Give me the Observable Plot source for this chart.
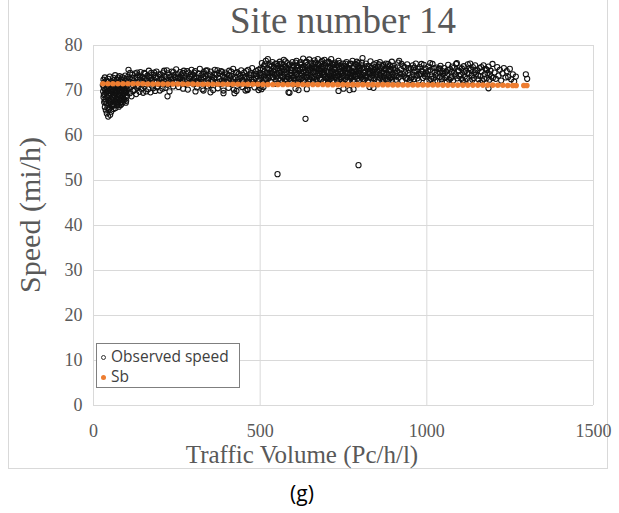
<!DOCTYPE html>
<html>
<head>
<meta charset="utf-8">
<script src="https://cdn.jsdelivr.net/npm/d3@7"></script>
<script src="https://cdn.jsdelivr.net/npm/@observablehq/plot@0.6"></script>
<style>
  body { margin: 0; background: #fff; }
  #wrap { position: relative; width: 619px; height: 513px; font-family: "Liberation Serif", "Times New Roman", serif; color: #595959; }
  #wrap > div { position: absolute; }
  .serif { font-family: "Liberation Serif", "Times New Roman", serif; }
  #chart svg text { font-family: "Liberation Serif", "Times New Roman", serif !important; }
  #outer { left: 8px; top: -1px; width: 600px; height: 470px; border: 1px solid #d9d9d9; box-sizing: border-box; }
  #title { left: 93px; width: 500px; top: 2px; text-align: center; font-size: 37px; line-height: 37px; }
  #ytitle { left: 30px; top: 215px; font-size: 30px; white-space: nowrap; transform: translate(-50%, -50%) rotate(-90deg); }
  #xtitle { left: 302px; top: 455px; font-size: 25px; white-space: nowrap; transform: translate(-50%, -50%); }
  #legend { left: 96px; top: 343px; width: 144px; height: 45px; border: 1px solid #7f7f7f; background: #fff; box-sizing: border-box;
            font-family: "Open Sans", sans-serif; font-size: 15.5px; color: #404040; }
  #legend .row { position: absolute; left: 4px; height: 20px; line-height: 20px; white-space: nowrap; }
  #legend .sym { display: inline-block; vertical-align: middle; margin-right: 5px; border-radius: 50%; box-sizing: border-box; }
  #caption { left: 302px; top: 493px; transform: translate(-50%, -50%); font-family: "Open Sans", sans-serif; font-size: 21px; color: #000; }
</style>
</head>
<body>
<div id="wrap">
  <div id="outer"></div>
  <div id="chart"></div>
  <div id="title" class="serif">Site number 14</div>
  <div id="ytitle" class="serif">Speed (mi/h)</div>
  <div id="xtitle" class="serif">Traffic Volume (Pc/h/l)</div>
  <div id="legend">
    <div class="row" style="top:2px"><span class="sym" style="width:5px;height:5px;border:1px solid #333"></span>Observed speed</div>
    <div class="row" style="top:22px"><span class="sym" style="width:5px;height:5px;background:#ED7D31"></span>Sb</div>
  </div>
  <div id="caption">(g)</div>
</div>
<script>
// Axis ticks
const xTicks = [0, 500, 1000, 1500];
const yTicks = [0, 10, 20, 30, 40, 50, 60, 70, 80];

// Observed speed (volume in pc/h/l, speed in mi/h), grouped by volume range
const observedLowVolume = [
  [28,71.2],[29,69.8],[30,72.4],[30,68.5],[31,70.6],[32,67.4],[32,71.8],[33,69.2],[34,66.3],[34,72.9],[35,70.1],[36,68.0],[36,71.5],[37,65.6],[38,69.5],[38,72.2],[39,67.1],[40,70.8],[40,64.9],
  [41,68.6],[42,71.9],[42,66.2],[43,69.9],[44,64.2],[44,72.6],[45,67.8],[46,70.4],[46,65.7],[47,68.9],[48,71.3],[48,66.9],[49,73.1],[50,69.4],[50,64.6],[51,67.3],[52,70.9],[52,68.2],[53,65.3],[54,72.0],[54,69.7],[55,66.5],
  [56,71.6],[57,68.4],[57,70.3],[58,67.0],[59,72.8],[60,69.1],[60,65.9],[61,71.0],[62,68.8],[62,66.7],[63,72.3],[64,70.0],[64,67.6],[65,73.4],[66,69.5],[66,66.1],[67,71.7],[68,68.1],[68,70.7],[69,67.3],[70,72.5],[70,69.9],
  [71,66.8],[72,71.1],[72,68.6],[73,70.2],[74,67.5],[74,72.9],[75,69.3],[76,71.5],[76,66.4],[77,68.0],[78,70.6],[78,73.2],[79,69.0],[80,67.2],[80,71.9],[81,70.1],[82,68.4],[82,72.4],[83,66.9],[84,69.7],[84,71.2],[85,67.8],
  [86,70.5],[86,73.0],[87,68.9],[88,72.0],[88,67.4],[89,70.9],[90,69.2],[90,71.6],[91,68.1],[92,72.7],[92,70.0],[93,67.9],[94,71.3],[94,69.5],[95,73.3],[96,68.6],[96,70.7],[97,72.1],[98,69.8],[98,67.7],[99,71.0],[100,68.8],[100,72.6],
  [31,69.0],[35,67.6],[39,70.3],[43,71.1],[47,66.0],[51,70.0],[55,68.0],[58,69.6],[61,67.9],[65,70.8],[69,69.0],[73,68.2],[77,70.0],[81,66.8],[85,70.9],[89,68.4],[93,69.4],[97,67.3],[33,71.7],[45,69.3],[53,71.4],[63,69.8],[71,70.4],[79,71.5],[87,71.4],[95,70.2],[99,69.6],[67,67.9],[57,66.6],[49,67.6]
];

const observedMidVolume = [
  [102,70.3],[104,73.1],[105,74.6],[107,71.9],[109,69.4],[111,72.6],[112,70.8],[114,68.7],[116,73.5],[118,71.2],[119,69.9],[121,72.2],[123,70.1],[125,73.8],[127,71.6],[128,69.2],[130,72.9],[132,70.6],[134,73.4],[136,71.0],[138,69.7],[140,72.4],[141,74.1],[143,70.4],[145,71.8],[147,73.0],[149,69.5],
  [151,72.6],[153,70.9],[155,73.7],[156,71.4],[158,69.8],[160,72.1],[162,73.3],[164,70.3],[166,74.4],[168,71.7],[170,72.8],[171,69.6],[173,73.9],[175,71.1],[177,72.4],[179,70.5],[181,73.5],[183,71.9],[185,69.9],[187,72.9],[189,74.2],[191,70.7],[193,73.1],[195,71.5],[197,72.3],[199,70.0],
  [201,73.6],[203,71.8],[205,72.7],[207,70.4],[209,74.0],[211,72.0],[213,73.2],[216,70.6],[218,72.5],[220,74.5],[222,71.3],[224,73.8],[226,72.2],[228,69.8],[230,73.0],[232,71.6],[235,74.2],[237,72.6],[239,70.9],[241,73.4],[243,71.9],[246,72.9],[248,74.7],
  [251,72.1],[253,73.6],[255,70.8],[258,72.8],[260,74.1],[262,71.7],[264,73.3],[267,72.4],[269,70.4],[271,74.4],[273,72.9],[276,71.5],[278,73.7],[280,72.3],[283,70.2],[285,74.0],[287,72.6],[290,73.1],[292,71.9],[294,74.6],[297,72.0],[299,73.5],
  [301,71.4],[303,72.7],[305,74.3],[308,73.0],[310,70.7],[312,72.2],[315,73.8],[317,71.8],[319,74.8],[322,72.5],[324,73.4],[327,70.3],[329,72.9],[331,74.1],[334,71.6],[336,73.2],[338,72.1],[341,74.5],[343,70.9],[345,72.7],[348,73.6],
  [350,71.2],[352,74.2],[355,72.4],[357,73.1],[359,70.1],[362,72.8],[364,74.6],[366,71.7],[369,73.5],[371,72.0],[373,70.5],[376,73.9],[378,72.6],[381,71.4],[383,74.3],[385,72.2],[388,73.3],[390,70.0],[393,72.9],[395,74.0],[398,71.9],
  [400,73.6],[402,72.3],[405,70.6],[407,74.4],[409,72.7],[412,71.5],[414,73.2],[417,72.0],[419,74.8],[421,70.2],[424,73.0],[426,71.8],[429,69.9],[431,74.1],[433,72.5],[436,73.7],[438,71.3],[441,72.8],[443,74.5],[446,70.8],[448,73.4],
  [450,72.1],[452,74.0],[455,71.6],[457,73.1],[460,72.6],[462,70.3],[464,74.6],[467,72.9],[469,71.2],[471,73.8],[474,72.4],[476,75.0],[479,71.9],[481,73.5],[483,70.7],[486,72.7],[488,74.3],[491,73.2],[493,71.5],[495,72.2],[498,73.9],[499,70.6],
  [103,72.0],[110,73.9],[117,72.8],[124,71.7],[131,74.0],[139,72.9],[146,72.2],[152,73.9],[159,72.7],[167,73.0],[174,72.3],[182,74.0],[188,71.8],[196,73.6],[204,72.4],[212,74.4],[219,73.1],[227,71.8],[233,72.4],[240,74.1],
  [247,71.9],[254,72.9],[261,73.0],[268,73.9],[274,72.2],[281,74.3],[288,71.7],[295,73.2],[302,74.0],[309,72.1],[316,72.8],[323,71.9],[330,73.7],[337,74.4],[344,72.3],[351,73.3],[358,72.0],[365,73.7],[372,74.5],[379,72.0],
  [386,74.1],[392,71.8],[399,72.9],[406,73.4],[413,74.2],[420,72.6],[427,73.9],[434,71.9],[440,73.2],[447,72.3],[453,72.9],[459,74.3],[466,71.8],[473,73.4],[480,72.5],[487,73.7],[494,74.6],[497,72.3]
];

const observedPeakVolume = [
  [501,74.9],[503,72.8],[505,76.1],[507,73.6],[509,71.7],[511,75.4],[513,74.2],[515,72.3],[517,76.6],[519,73.9],[521,75.0],[523,77.0],[525,72.7],[527,74.6],[529,73.2],[531,75.8],[533,71.9],[535,74.0],[537,76.3],[539,72.9],[541,75.2],[543,73.5],[545,74.7],[547,72.2],[549,76.0],[512,73.1],[520,71.6],[528,75.6],[536,73.0],[544,71.5],
  [551,73.8],[553,75.5],[555,72.5],[557,74.4],[559,76.4],[561,73.3],[563,75.1],[565,71.8],[567,74.8],[569,72.9],[571,76.8],[573,73.6],[575,75.3],[577,72.1],[579,74.1],[581,76.1],[583,73.0],[585,74.9],[587,72.6],[589,75.8],[591,73.9],[593,71.6],[595,74.5],[597,76.3],[599,72.8],[556,73.9],[564,76.0],[572,74.5],[580,72.5],[588,73.5],[596,75.0],[560,72.3],[576,76.5],[592,74.6],
  [601,75.5],[603,73.2],[605,74.6],[607,72.4],[609,76.6],[611,73.7],[613,75.0],[615,72.0],[617,74.3],[619,76.0],[621,73.4],[623,75.7],[625,72.7],[627,74.9],[629,77.1],[631,73.1],[633,75.3],[635,71.9],[637,74.0],[639,76.4],[641,72.9],[643,75.1],[645,73.8],[647,76.9],[649,72.5],[604,74.0],[612,71.7],[620,74.7],[628,72.3],[636,76.2],[644,74.4],[606,76.2],[624,73.9],[640,73.5],
  [651,74.6],[653,76.2],[655,73.0],[657,75.4],[659,72.2],[661,74.2],[663,76.7],[665,73.6],[667,75.0],[669,71.8],[671,74.8],[673,77.0],[675,73.3],[677,75.6],[679,72.6],[681,74.4],[683,76.3],[685,73.9],[687,75.2],[689,72.0],[691,74.1],[693,76.8],[695,73.1],[697,75.5],[699,72.7],[656,72.7],[664,75.1],[672,73.2],[680,76.0],[688,74.0],[696,71.9],[660,75.9],[676,74.9],[692,73.4],
  [701,74.9],[703,73.0],[705,76.4],[707,72.4],[709,75.2],[711,73.8],[713,77.0],[715,74.3],[717,72.1],[719,75.7],[721,73.5],[723,74.6],[725,76.2],[727,72.8],[729,75.0],[731,73.2],[733,74.1],[735,76.6],[737,72.3],[739,74.8],[741,73.6],[743,75.5],[745,71.9],[747,74.0],[749,76.0],[704,75.3],[712,72.6],[720,74.9],[728,73.9],[736,75.2],[744,72.9],[716,75.9],[732,75.8],
  [751,73.3],[753,75.4],[755,72.5],[757,74.4],[759,76.3],[761,73.0],[763,75.0],[765,72.2],[767,74.7],[769,73.6],[771,75.9],[773,72.8],[775,74.2],[777,76.6],[779,73.4],[781,75.3],[783,72.0],[785,74.5],[787,73.1],[789,75.7],[791,72.6],[793,74.0],[795,76.1],[797,73.7],[799,75.1],[758,73.9],[766,75.6],[774,73.2],[782,74.1],[790,76.4],[798,72.4],
  [801,74.6],[803,72.9],[805,76.2],[807,77.2],[809,73.5],[811,75.0],[813,72.4],[815,74.2],[817,76.0],[819,73.1],[821,74.8],[823,72.1],[825,75.4],[827,73.7],[829,74.4],[831,76.5],[833,72.7],[835,75.1],[837,73.3],[839,74.0],[841,75.8],[843,72.5],[845,74.7],[847,73.6],[849,76.1],[806,74.9],[818,72.8],[830,73.9],[842,74.6],
  [851,73.0],[853,75.2],[855,72.3],[857,74.5],[859,76.3],[861,73.4],[863,75.0],[865,72.0],[867,74.1],[869,75.7],[871,73.2],[873,74.8],[875,72.6],[877,76.0],[879,73.8],[881,75.3],[883,72.2],[885,74.4],[887,73.1],[889,75.6],[891,72.8],[893,74.2],[895,76.4],[897,73.5],[899,74.9],[858,73.6],[870,72.4],[884,75.9],[896,72.4],
  [502,73.4],[508,74.8],[514,75.8],[518,72.6],[524,74.0],[530,73.9],[534,75.4],[540,74.3],[546,75.9],[548,73.1],[552,74.9],[558,75.8],[562,74.1],[566,73.1],[570,75.2],[574,72.3],[578,74.9],[582,73.7],[586,75.6],[590,72.2],
  [594,73.3],[598,75.6],[602,72.8],[608,73.5],[610,75.6],[614,74.5],[618,72.6],[622,76.3],[626,75.1],[630,74.1],[632,72.2],[634,74.6],[638,73.0],[642,75.7],[646,72.1],[648,74.9],[652,73.4],[654,75.0],[658,74.0],[662,73.0],
  [666,76.2],[668,74.3],[670,72.5],[674,75.8],[678,73.9],[682,72.4],[684,75.3],[686,76.6],[690,73.7],[694,75.1],[698,74.3],[700,76.2],[702,72.5],[706,74.1],[708,73.2],[710,76.1],[714,72.9],[718,74.1],[722,76.0],[724,73.0],
  [726,74.7],[730,72.4],[734,73.4],[738,76.1],[740,74.2],[742,72.6],[746,75.1],[748,73.2],[752,74.6],[756,76.0],[760,74.8],[762,72.3],[764,73.8],[768,74.9],[770,72.9],[772,76.0],[776,73.9],[778,75.0],[780,72.4],[784,73.5],
  [786,75.9],[788,74.2],[792,73.3],[794,75.4],[796,74.4],[800,73.3],[804,75.6],[808,72.6],[812,74.0],[816,73.3],[820,75.4],[824,74.1],[828,72.9],[832,75.0],[836,74.3],[840,72.8],[844,75.2],[848,74.0],[852,74.4],[856,75.8],
  [860,72.8],[864,74.0],[868,75.4],[872,73.9],[876,74.6],[880,72.5],[886,73.5],[890,74.7],[894,73.0],[898,75.5]
];

const observedHighVolume = [
  [902,73.1],[905,75.0],[908,72.4],[911,74.3],[914,76.2],[917,76.6],[920,73.6],[923,74.7],[926,72.1],[929,75.4],[932,73.3],[935,74.0],[938,72.7],[941,75.8],[944,73.9],[947,74.5],[949,72.3],[906,73.8],[915,72.9],[924,75.9],[933,75.2],[942,72.6],
  [952,74.9],[955,73.0],[958,75.6],[961,72.5],[964,74.2],[967,76.0],[970,73.4],[973,74.8],[976,72.2],[979,75.2],[982,73.7],[985,74.4],[988,72.8],[991,75.7],[994,73.2],[997,74.0],[999,72.0],[960,73.5],[972,72.7],[984,75.9],[996,74.9],
  [1002,73.6],[1005,75.3],[1008,72.3],[1011,74.6],[1014,73.1],[1017,75.9],[1020,72.7],[1023,74.1],[1026,73.4],[1029,75.1],[1032,72.1],[1035,74.8],[1038,73.0],[1041,75.5],[1044,72.5],[1047,74.3],[1049,73.7],[1010,76.1],[1025,72.0],[1040,74.0],
  [1052,75.0],[1055,72.8],[1058,74.2],[1061,73.3],[1064,75.7],[1067,72.4],[1070,74.7],[1073,73.0],[1076,75.3],[1079,72.2],[1082,74.0],[1085,73.6],[1088,75.9],[1091,72.7],[1094,74.5],[1097,73.2],[1099,75.1],[1060,71.9],[1075,74.2],[1090,76.1],
  [1102,73.5],[1105,74.9],[1108,72.3],[1111,75.4],[1114,73.1],[1117,74.4],[1120,72.6],[1123,75.8],[1126,73.8],[1129,72.1],[1132,74.6],[1135,73.3],[1138,75.2],[1141,72.8],[1144,74.0],[1147,73.6],[1110,71.8],[1130,76.0],[1145,75.6],
  [1152,74.5],[1155,72.5],[1158,75.0],[1161,73.2],[1164,74.2],[1167,72.2],[1170,75.6],[1173,73.6],[1176,74.8],[1179,72.7],[1182,73.9],[1185,75.3],[1188,72.4],[1191,74.4],[1194,73.1],[1197,75.9],[1160,71.7],
  [1203,74.0],[1207,72.6],[1211,75.2],[1215,73.3],[1219,74.6],[1223,72.2],[1227,73.8],[1231,75.0],[1236,72.9],[1240,74.3],[1244,73.0],[1249,74.8],[1253,72.5],[1258,73.6],[1262,72.0],[1267,73.1],[1297,73.6],[1301,72.6],
  [903,74.6],[910,73.2],[918,74.0],[927,73.7],[936,72.8],[945,75.0],[953,72.7],[962,75.1],[969,74.2],[978,73.5],[987,74.1],[995,73.6],[1004,74.3],[1013,72.6],[1021,75.0],[1030,73.8],[1039,74.9],[1046,72.9],
  [1054,73.9],[1063,74.6],[1072,72.7],[1080,75.0],[1087,73.3],[1096,74.3],[1104,72.6],[1113,74.1],[1121,73.9],[1128,75.0],[1137,72.4],[1146,74.5],[1154,73.3],[1163,75.2],[1172,72.6],[1180,74.6],[1189,73.6],[1198,72.8]
];

// Observations that fall below the main band
const observedLowSpeed = [
  [552,51.4],[795,53.4],[636,63.7],[222,68.7],[585,69.6],[606,70.4],[615,70.1],[588,69.5],[735,69.9],[768,70.1],[828,70.8],[1185,70.5],
  [462,70.1],[504,70.3],[510,70.8],[306,69.8],[330,70.0],[351,69.6],[390,69.4],[423,69.4],[456,70.0],[495,70.1],[640,70.3],[750,70.4],[780,70.3],[840,70.6]
];

// Sb (base speed) estimates along the volume range
const sbPoints = [
  [28,71.5],[43,71.5],[58,71.5],[73,71.5],[88,71.5],[103,71.5],[118,71.5],[133,71.5],[148,71.5],[163,71.45],[178,71.45],[193,71.45],[208,71.45],[223,71.45],[238,71.45],
  [253,71.45],[268,71.45],[283,71.45],[298,71.45],[313,71.4],[328,71.4],[343,71.4],[358,71.4],[373,71.4],[388,71.4],[403,71.4],[418,71.4],[433,71.4],[448,71.4],[463,71.4],
  [478,71.4],[493,71.4],[508,71.35],[523,71.35],[538,71.35],[553,71.35],[568,71.35],[583,71.35],[598,71.35],[613,71.35],[628,71.35],[643,71.35],[658,71.35],[673,71.35],[688,71.35],
  [703,71.3],[718,71.3],[733,71.3],[748,71.3],[763,71.3],[778,71.3],[793,71.3],[808,71.3],[823,71.3],[838,71.3],[853,71.3],[868,71.3],[883,71.3],[898,71.25],[913,71.25],
  [928,71.25],[943,71.25],[958,71.25],[973,71.25],[988,71.25],[1003,71.25],[1018,71.25],[1033,71.25],[1048,71.2],[1063,71.2],[1078,71.2],[1093,71.2],[1108,71.2],[1123,71.2],[1138,71.2],
  [1153,71.2],[1168,71.2],[1183,71.2],[1198,71.2],[1213,71.15],[1228,71.15],[1243,71.1],[1258,71.1],[1268,71.1],[1291,71.1],[1300,71.1]
];

const observed = [
  ...observedLowVolume, ...observedMidVolume, ...observedPeakVolume, ...observedHighVolume, ...observedLowSpeed
].map(([volume, speed]) => ({volume, speed}));
const sb = sbPoints.map(([volume, speed]) => ({volume, speed}));

const chart = Plot.plot({
  width: 619,
  height: 470,
  marginLeft: 93,
  marginRight: 26,
  marginTop: 45,
  marginBottom: 65,
  style: {fontFamily: "Liberation Serif, serif", color: "#595959", background: "transparent", overflow: "visible"},
  x: {domain: [0, 1500]},
  y: {domain: [0, 80]},
  marks: [
    Plot.gridY(yTicks, {stroke: "#d9d9d9", strokeOpacity: 1}),
    Plot.gridX(xTicks, {stroke: "#d9d9d9", strokeOpacity: 1}),
    Plot.axisX(xTicks, {tickSize: 0, tickPadding: 19, fontSize: 18, tickFormat: d => String(d), label: null}),
    Plot.axisY(yTicks, {tickSize: 0, tickPadding: 11, fontSize: 18, tickFormat: d => String(d), label: null}),
    Plot.dot(observed, {x: "volume", y: "speed", r: 2.6, stroke: "#111", strokeWidth: 1.05, fill: "none"}),
    Plot.dot(sb, {x: "volume", y: "speed", r: 2.8, fill: "#ED7D31", stroke: "none"})
  ]
});
document.getElementById("chart").appendChild(chart);
</script>
</body>
</html>
